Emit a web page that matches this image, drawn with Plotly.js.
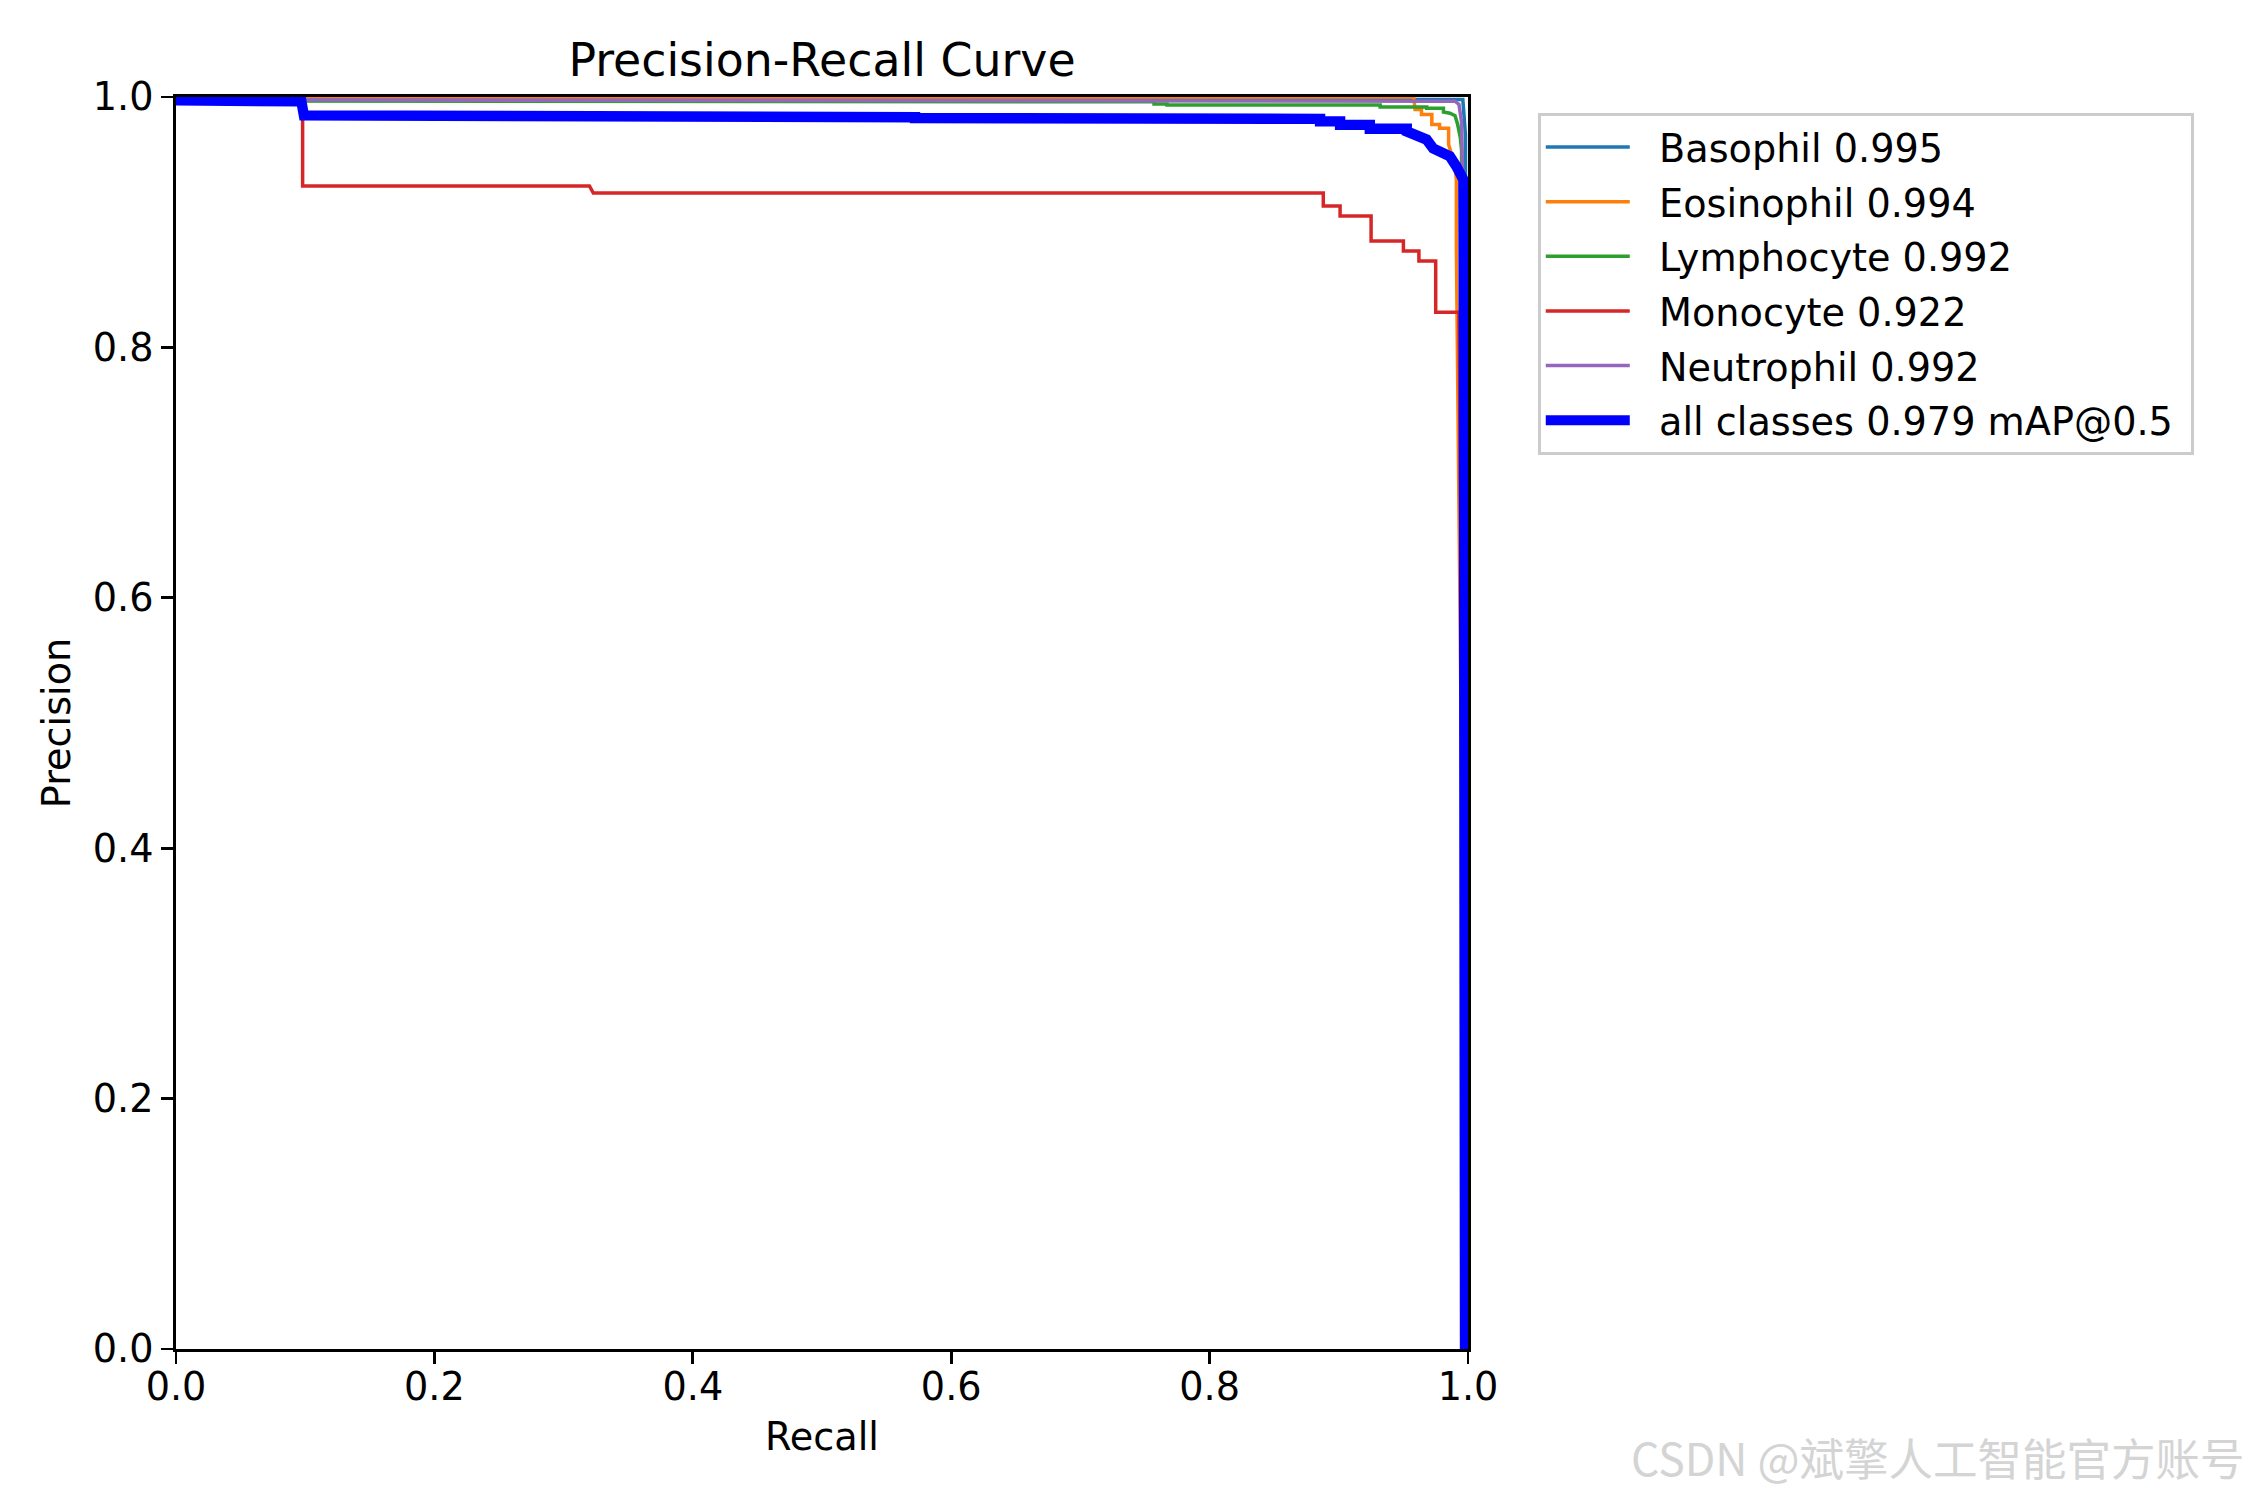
<!DOCTYPE html>
<html>
<head>
<meta charset="utf-8">
<script src="https://cdn.plot.ly/plotly-3.0.1.min.js"></script>
<style>html,body{margin:0;padding:0;background:#fff;}</style>
</head>
<body>
<div id="chart" style="width:2250px;height:1500px;"></div>
<script>
// ---- data ----
const classNames = ["Basophil 0.995", "Eosinophil 0.994", "Lymphocyte 0.992", "Monocyte 0.922", "Neutrophil 0.992", "all classes 0.979 mAP@0.5"];
const colors = ["#1f77b4", "#ff7f0e", "#2ca02c", "#d62728", "#9467bd", "#0000ff"];

const basophilRecall    = [0, 0.996, 0.998, 0.9995];
const basophilPrecision = [1.0, 0.998, 0.97, 0.0];

const eosinophilRecall    = [0, 0.958, 0.959, 0.964, 0.964, 0.972, 0.972, 0.978, 0.978, 0.985, 0.985, 0.990, 0.991, 0.991, 0.9995];
const eosinophilPrecision = [1.0, 1.0, 0.990, 0.990, 0.986, 0.986, 0.978, 0.978, 0.975, 0.975, 0.962, 0.945, 0.934, 0.880, 0.0];

const lymphocyteRecall    = [0, 0.572, 0.572, 0.757, 0.757, 0.767, 0.767, 0.932, 0.932, 0.968, 0.968, 0.981, 0.981, 0.986, 0.990, 0.992, 0.994, 0.995, 0.999];
const lymphocytePrecision = [0.9968, 0.9968, 0.9962, 0.9962, 0.9944, 0.9944, 0.9936, 0.9936, 0.992, 0.992, 0.991, 0.991, 0.988, 0.987, 0.985, 0.978, 0.968, 0.958, 0.0];

const monocyteRecall    = [0, 0.098, 0.098, 0.320, 0.323, 0.888, 0.888, 0.901, 0.901, 0.925, 0.925, 0.950, 0.950, 0.962, 0.962, 0.975, 0.975, 0.993, 0.9995];
const monocytePrecision = [1.0, 1.0, 0.929, 0.929, 0.9233, 0.9233, 0.913, 0.913, 0.905, 0.905, 0.885, 0.885, 0.877, 0.877, 0.869, 0.869, 0.828, 0.828, 0.0];

const neutrophilRecall    = [0, 0.945, 0.990, 0.993, 0.995, 0.996, 0.999];
const neutrophilPrecision = [0.9978, 0.9972, 0.9966, 0.994, 0.980, 0.930, 0.0];

const allRecall    = [0, 0.040, 0.040, 0.097, 0.099, 0.297, 0.297, 0.322, 0.322, 0.572, 0.572, 0.756, 0.756, 0.8855, 0.8855, 0.901, 0.901, 0.924, 0.924, 0.9526, 0.9526, 0.9628, 0.968, 0.973, 0.980, 0.986, 0.991, 0.9964, 0.9968, 0.9977];
const allPrecision = [0.9973, 0.9973, 0.9966, 0.9966, 0.9853, 0.9853, 0.9845, 0.9845, 0.9838, 0.9838, 0.9832, 0.9832, 0.9825, 0.9825, 0.9805, 0.9805, 0.9777, 0.9777, 0.9747, 0.9747, 0.9725, 0.968, 0.966, 0.959, 0.956, 0.9526, 0.9446, 0.934, 0.80, 0.0];

const xTickVals = [0, 0.2, 0.4, 0.6, 0.8, 1.0];
const xTickText = ["0.0", "0.2", "0.4", "0.6", "0.8", "1.0"];
const yTickVals = [0, 0.2, 0.4, 0.6, 0.8, 1.0];
const yTickText = ["0.0", "0.2", "0.4", "0.6", "0.8", "1.0"];

const titleText = "Precision-Recall Curve";
const xTitle = "Recall";
const yTitle = "Precision";
const watermark = "CSDN @斌擎人工智能官方账号";

// ---- build traces ----
const seriesX = [basophilRecall, eosinophilRecall, lymphocyteRecall, monocyteRecall, neutrophilRecall, allRecall];
const seriesY = [basophilPrecision, eosinophilPrecision, lymphocytePrecision, monocytePrecision, neutrophilPrecision, allPrecision];
const lineWidths = [3.5, 3.5, 3.5, 3.5, 3.5, 10.4];
const pad = "\u00a0\u00a0";

const traces = seriesX.map((xs, i) => ({
  type: "scatter",
  mode: "lines",
  x: xs,
  y: seriesY[i],
  name: pad + classNames[i] + "\u00a0",
  legendgroup: "g" + i,
  line: {color: colors[i], width: lineWidths[i], shape: "linear"},
  hoverinfo: "skip"
}));

const font = "DejaVu Sans, Liberation Sans, sans-serif";
const fs = 38.2;

const layout = {
  width: 2250,
  height: 1500,
  paper_bgcolor: "#ffffff",
  plot_bgcolor: "#ffffff",
  margin: {l: 176, r: 782, t: 97, b: 151, pad: 0},
  font: {family: font, size: fs, color: "#000000"},
  title: {
    text: titleText,
    font: {family: font, size: 45.8, color: "#000000"},
    x: 0.5, xref: "paper", xanchor: "center",
    y: 1 - 60 / 1500, yref: "container", yanchor: "middle"
  },
  showlegend: true,
  legend: {
    x: 1.054, y: 0.9875, xanchor: "left", yanchor: "top",
    bgcolor: "#ffffff",
    bordercolor: "#cccccc",
    borderwidth: 3,
    font: {family: font, size: fs, color: "#000000"},
    itemwidth: 84,
    tracegroupgap: 2,
    traceorder: "grouped"
  },
  xaxis: {
    range: [0, 1],
    tickvals: xTickVals,
    ticktext: xTickText,
    ticks: "outside",
    ticklen: 12,
    tickwidth: 2.8,
    tickcolor: "#000000",
    ticklabelstandoff: -10,
    showline: true,
    linecolor: "#000000",
    linewidth: 2.8,
    mirror: true,
    showgrid: false,
    zeroline: false,
    tickfont: {family: font, size: fs, color: "#000000"},
    title: {text: xTitle, font: {family: font, size: fs, color: "#000000"}, standoff: 16},
    fixedrange: true
  },
  yaxis: {
    range: [0, 1],
    tickvals: yTickVals,
    ticktext: yTickText,
    ticks: "outside",
    ticklen: 12,
    tickwidth: 2.8,
    tickcolor: "#000000",
    showline: true,
    linecolor: "#000000",
    linewidth: 2.8,
    mirror: true,
    showgrid: false,
    zeroline: false,
    tickfont: {family: font, size: fs, color: "#000000"},
    title: {text: yTitle, font: {family: font, size: fs, color: "#000000"}, standoff: 11},
    fixedrange: true
  },
  annotations: [{
    text: watermark,
    xref: "paper", yref: "paper",
    x: (2247 - 176) / 1292, y: 1 - (1456 - 97) / 1252,
    xanchor: "right", yanchor: "middle",
    showarrow: false,
    font: {family: "Noto Sans CJK SC, sans-serif", size: 44.5, color: "#d4d4d4"}
  }]
};

Plotly.newPlot("chart", traces, layout, {staticPlot: true, displayModeBar: false});
</script>
</body>
</html>
